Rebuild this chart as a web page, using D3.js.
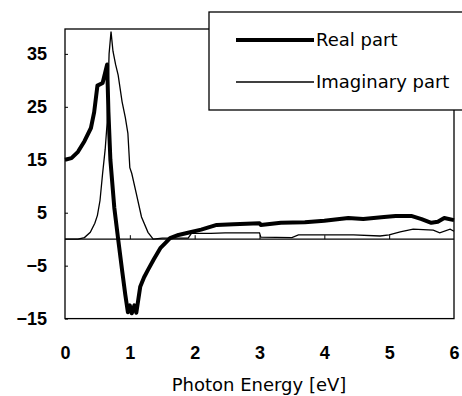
<!DOCTYPE html>
<meta charset="utf-8">
<script src="https://d3js.org/d3.v7.min.js"></script>
<style>
  body { margin: 0; background: #fff; }
  svg { display: block; }
</style>
<div id="chart"></div>
<script>

// real part of the dielectric function
var realEnergy = [0, 0.1, 0.2, 0.3, 0.4, 0.45, 0.5, 0.58, 0.62, 0.65, 0.67, 0.7, 0.76, 0.82, 0.88, 0.93, 0.97, 1.0, 1.03, 1.07, 1.1, 1.16, 1.22, 1.28, 1.37, 1.47, 1.55, 1.62, 1.75, 1.93, 2.1, 2.34, 2.6, 3.0, 3.02, 3.33, 3.7, 4.0, 4.37, 4.6, 4.92, 5.1, 5.34, 5.5, 5.65, 5.75, 5.85, 6.0];
var realValues = [15, 15.3, 16.5, 18.5, 21, 24, 29, 29.5, 31.5, 33, 24, 15, 6, 0, -5.8, -10.5, -13.8, -12.5, -14, -12.5, -13.9, -9, -7.2, -5.8, -3.8, -1.7, -0.7, 0.2, 0.8, 1.3, 1.8, 2.7, 2.8, 3.0, 2.7, 3.1, 3.2, 3.5, 4.0, 3.8, 4.2, 4.4, 4.4, 3.8, 3.1, 3.3, 4.0, 3.6];

// imaginary part
var imagEnergy = [0, 0.2, 0.3, 0.39, 0.46, 0.5, 0.54, 0.58, 0.62, 0.65, 0.68, 0.71, 0.74, 0.78, 0.82, 0.88, 0.93, 0.97, 1.0, 1.03, 1.1, 1.18, 1.28, 1.36, 1.5, 1.9, 1.95, 2.25, 2.47, 3.0, 3.02, 3.5, 3.6, 4.3, 4.45, 4.86, 5.0, 5.17, 5.37, 5.68, 5.78, 5.94, 6.0];
var imagValues = [0, 0, 0.3, 1.3, 3, 4.5, 7.3, 12.4, 17, 22, 35, 39.2, 35.5, 33, 31, 26, 23, 20, 13.5, 12.4, 8.6, 4.2, 1.3, 0, 0.2, 0.2, 1.1, 1.1, 1.2, 1.2, 0.4, 0.3, 0.8, 0.8, 0.8, 0.6, 0.8, 1.4, 1.9, 1.7, 1.2, 1.9, 1.5];

var xTicks = [0, 1, 2, 3, 4, 5, 6];
var yTicks = [35, 25, 15, 5, -5, -15];
var seriesNames = ["Real part", "Imaginary part"];

var W = 462, H = 396;
var plotLeft = 65, plotRight = 454, plotTop = 29, plotBottom = 318.6;

var svg = d3.select("#chart").append("svg")
  .attr("width", W)
  .attr("height", H);

var x = d3.scaleLinear().domain([0, 6]).range([plotLeft, plotRight]);
var y = d3.scaleLinear().domain([-15, 39.7]).range([plotBottom, plotTop]);

// plot frame
svg.append("rect")
  .attr("x", plotLeft).attr("y", plotTop)
  .attr("width", plotRight - plotLeft).attr("height", plotBottom - plotTop)
  .attr("fill", "none").attr("stroke", "#000").attr("stroke-width", 1.3);

// zero line
svg.append("line")
  .attr("x1", x(0)).attr("x2", x(6))
  .attr("y1", y(0)).attr("y2", y(0))
  .attr("stroke", "#000").attr("stroke-width", 1.2);

// y axis (ticks point inward)
var yAxis = svg.append("g")
  .attr("transform", "translate(" + plotLeft + ",0)")
  .call(d3.axisLeft(y).tickValues(yTicks).tickSizeInner(-3).tickSizeOuter(0).tickPadding(18)
    .tickFormat(function(d) { return d < 0 ? "\u2212" + Math.abs(d) : d; }));
yAxis.select(".domain").remove();
yAxis.selectAll("text")
  .style("font-family", "'Liberation Sans', Arial, sans-serif")
  .style("font-size", "18px").style("font-weight", "bold").attr("fill", "#000");

// x axis labels below the frame
var xAxis = svg.append("g")
  .attr("transform", "translate(0," + plotBottom + ")")
  .call(d3.axisBottom(x).tickValues(xTicks).tickSize(0).tickPadding(28).tickFormat(d3.format("d")));
xAxis.select(".domain").remove();
xAxis.selectAll("text")
  .style("font-family", "'Liberation Sans', Arial, sans-serif")
  .style("font-size", "18px").style("font-weight", "bold").attr("fill", "#000");

// little ticks on the zero line
var zAxis = svg.append("g")
  .attr("transform", "translate(0," + y(0) + ")")
  .call(d3.axisBottom(x).tickValues(xTicks.slice(1, 6)).tickSizeInner(-4).tickSizeOuter(0).tickFormat(""));
zAxis.select(".domain").remove();

var line = d3.line()
  .x(function(d) { return x(d[0]); })
  .y(function(d) { return y(d[1]); });

svg.append("path")
  .datum(d3.zip(imagEnergy, imagValues))
  .attr("fill", "none").attr("stroke", "#000").attr("stroke-width", 1.3)
  .attr("d", line);

svg.append("path")
  .datum(d3.zip(realEnergy, realValues))
  .attr("fill", "none").attr("stroke", "#000").attr("stroke-width", 4)
  .attr("stroke-linejoin", "round")
  .attr("d", line);

// axis title
svg.append("text")
  .attr("x", 259).attr("y", 391)
  .attr("text-anchor", "middle")
  .style("font-family", "'DejaVu Sans', sans-serif")
  .style("font-size", "18px")
  .text("Photon Energy [eV]");

// legend box, sits on top of the plot
var legend = svg.append("g");
legend.append("rect")
  .attr("x", 209).attr("y", 12).attr("width", 270).attr("height", 98)
  .attr("fill", "#fff").attr("stroke", "#000").attr("stroke-width", 1.3);

var legendY = [40, 82], legendW = [4, 1.3];
seriesNames.forEach(function(name, i) {
  legend.append("line")
    .attr("x1", 236).attr("x2", 314)
    .attr("y1", legendY[i]).attr("y2", legendY[i])
    .attr("stroke", "#000").attr("stroke-width", legendW[i]);
  legend.append("text")
    .attr("x", 316).attr("y", legendY[i])
    .attr("dy", "0.35em")
    .style("font-family", "'DejaVu Sans', sans-serif")
    .style("font-size", "18px")
    .text(name);
});

</script>
